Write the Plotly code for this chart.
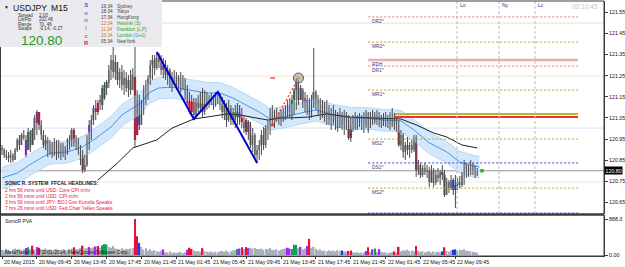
import plotly.graph_objects as go

# ---------------- data (USDJPY M15) ----------------
highs = [120.922,120.908,120.898,120.889,120.898,120.884,120.908,120.955,120.969,120.979,
 120.993,120.969,121.002,120.993,121.002,121.064,121.088,121.078,121.040,120.993,
 120.969,120.960,120.946,120.936,120.955,120.946,120.946,120.932,120.932,120.917,
 120.955,120.969,121.002,121.002,120.969,120.955,120.922,120.898,120.875,120.969,
 121.040,121.064,121.111,121.135,121.135,121.159,121.206,121.220,121.230,121.301,
 121.348,121.419,121.348,121.315,121.286,121.301,121.277,121.267,121.253,121.277,
 121.286,121.419,121.182,121.159,121.135,121.206,121.230,121.253,121.324,121.348,
 121.348,121.362,121.357,121.348,121.334,121.324,121.301,121.286,121.267,121.277,
 121.267,121.253,121.267,121.253,121.239,121.206,121.173,121.159,121.144,121.144,
 121.159,121.173,121.192,121.182,121.173,121.159,121.168,121.159,121.173,121.173,
 121.168,121.149,121.135,121.121,121.135,121.111,121.097,121.111,121.121,121.111,
 121.097,121.064,121.050,121.040,121.031,121.002,120.979,120.922,120.946,120.993,
 121.007,121.017,121.040,121.097,121.111,121.088,121.097,121.078,121.088,121.097,
 121.111,121.135,121.144,121.159,121.192,121.239,121.230,121.206,121.192,121.173,
 121.159,121.144,121.159,121.381,121.182,121.159,121.144,121.135,121.126,121.135,
 121.111,121.097,121.111,121.088,121.078,121.097,121.078,121.088,121.078,121.064,
 121.050,121.064,121.078,121.064,121.073,121.064,121.078,121.088,121.078,121.078,
 121.088,121.078,121.088,121.078,121.064,121.073,121.078,121.064,121.078,121.097,
 121.073,121.050,121.040,120.993,120.979,120.936,120.960,120.936,120.946,120.969,
 120.969,120.851,120.837,120.827,120.837,120.827,120.818,120.827,120.813,120.804,
 120.813,120.804,120.827,120.804,120.766,120.756,120.780,120.766,120.780,120.766,
 120.775,120.794,120.851,120.837,120.827,120.851,120.837,120.827,120.813]
lows = [120.875,120.861,120.851,120.841,120.837,120.841,120.851,120.889,120.898,120.922,
 120.946,120.865,120.898,120.889,120.922,120.946,120.969,120.993,120.946,120.908,
 120.898,120.865,120.875,120.861,120.870,120.851,120.861,120.851,120.865,120.851,
 120.875,120.898,120.913,120.913,120.898,120.875,120.827,120.789,120.794,120.818,
 120.898,120.946,121.017,121.040,121.064,121.088,121.088,121.135,121.159,121.192,
 121.230,121.239,121.230,121.206,121.192,121.182,121.159,121.173,121.149,121.159,
 121.182,120.913,120.969,120.993,121.017,121.064,121.111,121.135,121.206,121.230,
 121.253,121.277,121.286,121.253,121.239,121.230,121.206,121.192,121.173,121.206,
 121.182,121.192,121.173,121.182,121.135,121.111,121.069,121.064,121.045,121.054,
 121.078,121.088,121.054,121.064,121.088,121.097,121.111,121.088,121.102,121.116,
 121.088,121.050,121.040,121.007,121.031,121.017,121.017,121.002,121.017,121.017,
 121.002,120.979,120.969,120.946,120.908,120.889,120.861,120.837,120.851,120.875,
 120.898,120.908,120.946,120.969,121.017,121.002,121.031,121.017,121.012,121.031,
 121.040,121.050,121.050,121.040,121.064,121.088,121.111,121.135,121.097,121.078,
 121.064,121.040,121.050,121.097,121.088,121.064,121.040,121.050,121.031,121.017,
 121.017,120.993,121.017,120.993,120.984,121.002,120.993,120.969,120.993,120.946,
 120.936,120.984,120.993,120.993,121.007,120.993,120.979,121.002,120.979,121.002,
 121.017,121.021,121.017,121.007,121.002,121.012,121.007,121.002,120.993,121.007,
 120.993,120.984,120.913,120.898,120.861,120.851,120.875,120.861,120.884,120.889,
 120.771,120.780,120.766,120.771,120.780,120.766,120.723,120.742,120.723,120.733,
 120.747,120.733,120.756,120.676,120.685,120.695,120.709,120.685,120.624,120.709,
 120.718,120.723,120.733,120.766,120.771,120.780,120.780,120.766,120.775]
opens = [120.908,120.898,120.875,120.865,120.861,120.875,120.851,120.898,120.946,120.922,
 120.969,120.946,120.898,120.984,120.922,120.993,121.026,121.078,121.017,120.969,
 120.922,120.946,120.889,120.922,120.875,120.936,120.875,120.922,120.875,120.908,
 120.889,120.946,120.922,120.993,120.932,120.946,120.889,120.875,120.804,120.827,
 120.946,121.017,121.040,121.097,121.078,121.121,121.111,121.144,121.192,121.215,
 121.277,121.324,121.267,121.315,121.230,121.267,121.206,121.239,121.192,121.230,
 121.182,121.244,120.969,121.135,121.017,121.111,121.182,121.206,121.239,121.301,
 121.324,121.286,121.334,121.315,121.277,121.301,121.253,121.277,121.206,121.239,
 121.230,121.206,121.239,121.192,121.230,121.182,121.144,121.078,121.135,121.064,
 121.126,121.097,121.173,121.078,121.159,121.111,121.144,121.135,121.111,121.159,
 121.135,121.111,121.078,121.111,121.040,121.097,121.040,121.078,121.054,121.111,
 121.050,121.031,121.040,120.984,121.017,120.922,120.969,120.875,120.898,120.922,
 120.969,120.922,121.002,121.017,121.078,121.040,121.064,121.050,121.064,121.040,
 121.078,121.064,121.111,121.050,121.135,121.182,121.206,121.135,121.182,121.111,
 121.135,121.097,121.064,121.111,121.173,121.111,121.135,121.064,121.111,121.050,
 121.088,121.040,121.064,121.031,121.078,121.002,121.064,121.017,121.050,121.040,
 120.955,121.017,121.040,121.002,121.050,121.031,121.050,121.017,121.073,121.002,
 121.054,121.031,121.064,121.040,121.050,121.017,121.054,121.031,121.050,121.017,
 121.064,121.017,121.017,120.922,120.969,120.889,120.922,120.898,120.922,120.898,
 120.955,120.804,120.827,120.780,120.813,120.794,120.804,120.747,120.804,120.742,
 120.780,120.766,120.794,120.780,120.685,120.747,120.718,120.756,120.709,120.733,
 120.747,120.733,120.780,120.827,120.794,120.813,120.804,120.827,120.780]
closes = [120.898,120.875,120.865,120.861,120.875,120.851,120.898,120.946,120.922,120.969,
 120.955,120.875,120.984,120.908,120.993,121.050,121.078,121.017,120.969,120.922,
 120.946,120.889,120.922,120.875,120.936,120.875,120.922,120.875,120.908,120.889,
 120.946,120.922,120.993,120.932,120.946,120.889,120.851,120.804,120.827,120.946,
 121.017,121.040,121.097,121.078,121.121,121.135,121.192,121.206,121.220,121.277,
 121.324,121.267,121.315,121.230,121.267,121.206,121.239,121.192,121.230,121.182,
 121.253,120.946,121.135,121.017,121.111,121.182,121.206,121.239,121.301,121.324,
 121.286,121.334,121.315,121.277,121.301,121.253,121.277,121.206,121.239,121.230,
 121.206,121.239,121.192,121.230,121.159,121.121,121.078,121.135,121.064,121.126,
 121.097,121.159,121.078,121.159,121.111,121.144,121.135,121.111,121.159,121.135,
 121.111,121.078,121.111,121.040,121.097,121.040,121.078,121.040,121.111,121.050,
 121.031,121.002,120.984,121.031,120.922,120.969,120.875,120.898,120.922,120.969,
 120.922,121.002,121.017,121.078,121.040,121.064,121.050,121.064,121.040,121.078,
 121.064,121.111,121.078,121.135,121.182,121.220,121.135,121.192,121.111,121.144,
 121.088,121.064,121.111,121.173,121.111,121.135,121.064,121.111,121.050,121.088,
 121.040,121.064,121.031,121.078,121.002,121.064,121.017,121.050,121.031,120.955,
 121.017,121.040,121.002,121.050,121.031,121.050,121.017,121.073,120.993,121.054,
 121.040,121.064,121.040,121.059,121.017,121.054,121.031,121.050,121.017,121.064,
 121.017,121.031,120.922,120.969,120.889,120.922,120.898,120.922,120.898,120.955,
 120.804,120.827,120.780,120.813,120.794,120.804,120.747,120.804,120.742,120.780,
 120.766,120.794,120.780,120.685,120.747,120.718,120.756,120.709,120.733,120.747,
 120.733,120.780,120.827,120.794,120.813,120.804,120.827,120.780,120.800]
volumes = [130,110,150,120,100,140,160,130,150,120,140,
 170,190,150,230,140,200,180,
 150,130,160,120,140,110,130,150,120,100,140,130,110,150,160,
 190,150,140,170,230,160,180,200,170,190,210,220,180,240,270,260,
 200,180,220,160,150,140,170,130,150,140,160,180,
 888.3,460,300,
 200,130,170,110,150,100,120,90,80,110,140,70,60,90,50,70,40,60,80,50,70,
 130,180,150,110,90,100,80,170,100,80,70,90,60,80,70,90,100,80,110,70,90,110,120,
 150,160,190,150,200,170,180,160,170,150,140,160,130,150,140,170,130,120,140,110,130,150,160,
 180,160,150,250,250,170,200,140,160,220,400,180,200,150,120,140,100,110,90,120,100,110,90,120,100,
 110,90,80,100,110,70,60,70,50,60,70,100,190,70,140,160,80,150,90,60,70,50,60,70,90,60,
 200,90,120,110,130,100,110,90,220,100,80,90,70,80,100,60,90,70,80,60,90,190,100,80,120,130,140,110,130,120,140,110,100,90,80,70,60]
# Sonic R PVA flags per bar index: P purple, G green, R red, B blue
pva_marks = {11:'P',12:'G',14:'R',16:'P',17:'R',33:'R',37:'R',40:'P',43:'P',44:'R',46:'G',47:'G',48:'G',
 61:'R',62:'R',63:'B',74:'P',85:'P',86:'R',87:'R',92:'R',108:'G',109:'P',110:'R',112:'R',113:'P',
 131:'P',132:'P',133:'G',134:'G',135:'G',137:'P',140:'P',141:'R',156:'B',159:'R',160:'R',
 167:'P',168:'R',170:'P',171:'G',173:'P',180:'R',182:'R',190:'R',202:'B',203:'R',207:'B',208:'B'}

x_label_bars = [0,16,32,48,64,80,96,112,128,144,160,176,192,208]
x_labels = ["20 May 2015","20 May 09:45","20 May 13:45","20 May 17:45","20 May 21:45","21 May 01:45",
            "21 May 05:45","21 May 09:45","21 May 13:45","21 May 17:45","21 May 21:45","22 May 01:45",
            "22 May 05:45","22 May 09:45"]

band_idx = [0,7,14,22,30,37,42,50,55,60,63,68,72,78,86,94,100,106,112,118,123,129,137,144,152,160,167,175,183,189,196,204,210,216,219]
band_mid = [120.766,120.789,120.837,120.884,120.889,120.913,120.946,121.007,121.064,121.097,121.116,121.173,121.192,121.196,121.182,121.168,121.168,121.144,121.111,121.078,121.045,121.054,121.073,121.088,121.064,121.050,121.050,121.040,121.036,120.993,120.932,120.889,120.841,120.823,120.818]
band_hi = [120.816,120.839,120.887,120.934,120.939,120.963,120.996,121.057,121.114,121.147,121.166,121.223,121.242,121.246,121.232,121.218,121.218,121.194,121.161,121.128,121.095,121.104,121.123,121.138,121.114,121.100,121.100,121.090,121.086,121.043,120.982,120.939,120.891,120.873,120.868]
band_lo = [120.714,120.737,120.785,120.832,120.837,120.861,120.894,120.955,121.012,121.045,121.064,121.121,121.140,121.144,121.130,121.116,121.116,121.092,121.059,121.026,120.993,121.002,121.021,121.036,121.012,120.998,120.998,120.988,120.984,120.941,120.880,120.837,120.789,120.771,120.766]
slow_idx = [44,53,60,68,71,78,88,97,103,109,115,122,128,132,140,149,160,169,175,183,190,198,204,211,218]
slow_val = [120.756,120.837,120.908,120.936,120.946,121.002,121.045,121.059,121.069,121.064,121.054,121.040,121.050,121.050,121.054,121.069,121.054,121.050,121.050,121.045,121.017,120.979,120.960,120.922,120.908]
zz_idx = [71,88,99,117]
zz_val = [121.362,121.045,121.173,120.837]
proj_idx = [124,136]
proj_val = [121.017,121.239]

level_names = ["DR2^","MR2^","RDH","DR1^","MR1^","MS1^","DS1^","MS2^",""]
level_prices = [121.528,121.409,121.324,121.296,121.182,120.950,120.837,120.718,120.600]
level_kind = ["D","M","H","D","M","M","S","M","S"]
full_lines = [121.499,121.248,121.002,120.747]
full_line_colors = ["#cdeecd","#efe6d6","#dcdcf6","#e2eed2"]
pivot_prices = [121.069,121.054]
bid = 120.80
session_idx = [208.7,228.0,244.5]
session_names = ["Lo","Ny","Lc"]
right_ticks = [121.55,121.45,121.35,121.25,121.15,121.05,120.95,120.85,120.75,120.65]
headlines = ["2 hrs 56 mins until USD: Core CPI m/m","2 hrs 56 mins until USD: CPI m/m",
             "3 hrs 56 mins until JPY: BOJ Gov Kuroda Speaks","7 hrs 26 mins until USD: Fed Chair Yellen Speaks"]
info_rows = [("Spread","2.00"),("LotPip","202.46"),("Range","70, 46"),("Swaps","-0.14, -0.27")]
clock_rows = [("19:34","Sydney"),("18:34","Tokyo"),("17:34","HongKong"),("12:34","Helsinki (S)"),
              ("11:34","Frankfurt (L,P)"),("10:34","London (G+1)"),("05:34","NewYork")]
brand_letters = ["S","o","n","i","c","R"]

# ---------------- layout helpers ----------------
W, H = 625, 267
ML, MR, MT, MB = 0, 21, 1, 11
PW, PH = W - ML - MR, H - MT - MB
def pxx(x): return (x - ML) / PW
def pxy(y): return (H - MB - y) / PH
FONT = "Liberation Sans"
PVA_COL = {"P": "#a428f0", "G": "#10a058", "R": "#e8103c", "B": "#1c3ce0"}
n = len(closes)
idx = list(range(n))

fig = go.Figure()

# Dragon band
fig.add_trace(go.Scatter(x=band_idx, y=band_lo, mode="lines", line=dict(color="#b6d9f5", width=1), hoverinfo="skip"))
fig.add_trace(go.Scatter(x=band_idx, y=band_hi, mode="lines", line=dict(color="#b6d9f5", width=1),
                         fill="tonexty", fillcolor="rgba(204,228,250,0.85)", hoverinfo="skip"))
fig.add_trace(go.Scatter(x=band_idx, y=band_mid, mode="lines", line=dict(color="#4a94e6", width=1), hoverinfo="skip"))
fig.add_trace(go.Scatter(x=slow_idx, y=slow_val, mode="lines", line=dict(color="#202020", width=1), hoverinfo="skip"))

# wicks
wx, wy = [], []
for i in idx:
    wx += [i, i, None]
    wy += [lows[i], highs[i], None]
fig.add_trace(go.Scatter(x=wx, y=wy, mode="lines", line=dict(color="#4a4a4a", width=1), hoverinfo="skip"))
# bodies
bcol, bw, bbase, bh = [], [], [], []
for i in idx:
    m = pva_marks.get(i)
    bcol.append(PVA_COL[m] if m else "#a4a4a4")
    bw.append(1.05 if m else 0.75)
    bbase.append(min(opens[i], closes[i]))
    bh.append(max(abs(opens[i] - closes[i]), 0.003))
fig.add_trace(go.Bar(x=idx, y=bh, base=bbase, width=bw, marker=dict(color=bcol, line=dict(width=0)), hoverinfo="skip"))

# zigzag and projection
fig.add_trace(go.Scatter(x=zz_idx, y=zz_val, mode="lines", line=dict(color="#0000c8", width=2), hoverinfo="skip"))
fig.add_trace(go.Scatter(x=proj_idx, y=proj_val, mode="lines", line=dict(color="#ff2a2a", width=1.3, dash="2px,2px"), hoverinfo="skip"))
fig.add_trace(go.Scatter(x=[proj_idx[0]], y=[proj_val[0]], mode="markers", marker=dict(color="#ff2020", size=3), hoverinfo="skip"))
fig.add_trace(go.Scatter(x=[proj_idx[1]], y=[proj_val[1]], mode="markers",
                         marker=dict(symbol="circle", size=10, color="rgba(150,150,150,0.55)", line=dict(color="#5a5a5a", width=1)), hoverinfo="skip"))
fig.add_trace(go.Scatter(x=[proj_idx[1]], y=[proj_val[1]], mode="markers", marker=dict(color="#f0a020", size=3), hoverinfo="skip"))
fig.add_trace(go.Scatter(x=[proj_idx[0] - 1, proj_idx[0] + 1.3], y=[proj_val[1], proj_val[1]], mode="lines",
                         line=dict(color="#ff2020", width=1.2), hoverinfo="skip"))
fig.add_trace(go.Scatter(x=[n + 1.2], y=[bid], mode="markers", marker=dict(symbol="square", color="#20c020", size=3.5), hoverinfo="skip"))

# volumes
vcol = [PVA_COL[pva_marks[i]] if i in pva_marks else "#aab0ba" for i in idx]
fig.add_trace(go.Bar(x=idx, y=volumes, width=0.7, marker=dict(color=vcol, line=dict(width=0)), yaxis="y2", hoverinfo="skip"))

shapes = []
for p, c in zip(full_lines, full_line_colors):
    shapes.append(dict(type="line", xref="paper", x0=0, x1=1, yref="y", y0=p, y1=p, line=dict(color=c, width=1), layer="below"))
shapes.append(dict(type="line", xref="paper", x0=0, x1=1, yref="y", y0=bid, y1=bid, line=dict(color="#959595", width=1), layer="below"))
lvl_start, lvl_end = 168, 264.2
kind_style = {"D": ("#f07070", 1, "2px,2px"), "M": ("#a6a624", 1, "2px,2px"), "S": ("#3434e0", 1, "2px,2px"), "H": ("#f4a8a8", 2.5, "solid")}
for name, p, k in zip(level_names, level_prices, level_kind):
    c, w, d = kind_style[k]
    shapes.append(dict(type="line", xref="x", x0=lvl_start, x1=lvl_end, yref="y", y0=p, y1=p, line=dict(color=c, width=w, dash=d)))
for p, c in zip(pivot_prices, ["#b4b43c", "#f03030"]):
    shapes.append(dict(type="line", xref="x", x0=180.3, x1=lvl_end, yref="y", y0=p, y1=p, line=dict(color=c, width=2)))
for s in session_idx:
    shapes.append(dict(type="line", xref="x", x0=s, x1=s, yref="paper", y0=pxy(214), y1=pxy(1), line=dict(color="#bdbdbd", width=1, dash="3px,2px")))
shapes.append(dict(type="rect", xref="paper", yref="paper", x0=pxx(0.5), x1=1, y0=pxy(214), y1=pxy(1), line=dict(color="#3c3c3c", width=1)))
shapes.append(dict(type="line", xref="paper", yref="paper", x0=0, x1=1, y0=pxy(214.5), y1=pxy(214.5), line=dict(color="#3c3c3c", width=2)))
shapes.append(dict(type="rect", xref="paper", yref="paper", x0=pxx(0.5), x1=1, y0=0, y1=pxy(215), line=dict(color="#3c3c3c", width=1)))
shapes.append(dict(type="rect", xref="paper", yref="paper", x0=0, x1=pxx(162), y0=pxy(47), y1=pxy(0), fillcolor="#ebebef", line=dict(width=0), layer="above"))

ann = []
def txt(x, y, s, size=5, color="#202020", anchor="left", bold=False, **kw):
    ann.append(dict(xref="paper", yref="paper", x=pxx(x), y=pxy(y), text=("<b>%s</b>" % s) if bold else s, showarrow=False,
                    xanchor=anchor, yanchor="middle", font=dict(family=FONT, size=size, color=color), **kw))

for b, lab in zip(x_label_bars, x_labels):
    ann.append(dict(xref="x", yref="paper", x=b, y=pxy(261.5), text=lab, showarrow=False, xanchor="left", yanchor="middle",
                    font=dict(family=FONT, size=5.3, color="#111111")))
for name, p in zip(level_names, level_prices):
    if name:
        ann.append(dict(xref="x", yref="y", x=lvl_start + 0.8, y=p, text=name, showarrow=False, xanchor="left", yanchor="top",
                        font=dict(family=FONT, size=4.8, color="#3a3a80")))
for s, nm in zip(session_idx, session_names):
    ann.append(dict(xref="x", yref="paper", x=s, y=pxy(5), text=nm, showarrow=False, xanchor="left", yanchor="middle",
                    xshift=1, font=dict(family=FONT, size=5, color="#2a2a9a")))
ann.append(dict(xref="paper", yref="y", x=1, y=bid, text="120.80", showarrow=False, xanchor="left", yanchor="middle",
                bgcolor="#000000", borderpad=0.5, font=dict(family=FONT, size=5.3, color="#ffffff")))
txt(600, 6.5, "00:10:45", size=6.5, color="#c4c4c4", anchor="right")

# info panel text
txt(2, 7, "▼", size=5, color="#202020")
txt(11, 7.5, "USDJPY", size=8.6, color="#101010")
txt(49, 7.5, "M15", size=8.6, color="#101010")
for k, (a, b) in enumerate(info_rows):
    txt(16, 15 + 4.5 * k, a, size=4.6, color="#303030")
    txt(37, 15 + 4.5 * k, b, size=4.6, color="#303030")
txt(19, 40, "120.80", size=13.5, color="#1e9a28")
brand_cols = ["#5050dc", "#8868d8", "#a860c8", "#d060a0", "#e04878", "#e0203c"]
brand_txt = "<br>".join('<span style="color:%s"><b>%s</b></span>' % (c, ch) for ch, c in zip(brand_letters, brand_cols))
ann.append(dict(xref="paper", yref="paper", x=pxx(86), y=pxy(23.5), text=brand_txt, showarrow=False, xanchor="center",
                yanchor="middle", align="center", borderpad=0, font=dict(family=FONT, size=5.9, color="#5050dc")))
for k, (t, nm) in enumerate(clock_rows):
    yy = 6 + 5.95 * k
    hl = 3 <= k <= 5
    txt(99, yy, t, size=4.6, color="#c87814" if hl else "#3c3c3c")
    txt(115, yy, nm, size=4.6, color="#1ea01e" if hl else "#3c3c3c")

# headlines
txt(3, 183, "SONIC R. SYSTEM  FFCAL HEADLINES:", size=4.9, color="#14143c", bold=True)
for k, h in enumerate(headlines):
    txt(3, 190 + 6 * k, h, size=4.9, color="#e8103c")

# indicator texts
txt(3, 220.5, "SonicR PVA", size=5, color="#202020")
txt(3, 251.5, "MetaTrader 4, © 2001-2014, MetaQuotes Software Corp.", size=4.9, color="#1a1a1a")

fig.update_layout(
    width=W, height=H, margin=dict(l=ML, r=MR, t=MT, b=MB),
    paper_bgcolor="#ffffff", plot_bgcolor="#ffffff", showlegend=False, barmode="overlay",
    shapes=shapes, annotations=ann,
    xaxis=dict(range=[-0.917, 276.15], anchor="y2", showgrid=False, zeroline=False, showline=True, linecolor="#3c3c3c",
               tickvals=x_label_bars, ticks="outside", ticklen=2, tickcolor="#3c3c3c", showticklabels=False, fixedrange=True),
    yaxis=dict(domain=[pxy(214), 1], range=[120.5954, 121.6035], side="right", anchor="x", showgrid=False, zeroline=False,
               showline=True, linecolor="#3c3c3c", tickvals=right_ticks, ticktext=["%.2f" % v for v in right_ticks],
               ticks="outside", ticklen=3, tickcolor="#3c3c3c", tickfont=dict(family=FONT, size=5.3, color="#111111"),
               automargin=False),
    yaxis2=dict(domain=[0, pxy(215)], range=[-24.7, 987], side="right", anchor="x", showgrid=False, zeroline=False,
                showline=True, linecolor="#3c3c3c", tickvals=[888.3, 0], ticktext=["888.3", "0.00"], ticks="outside",
                ticklen=3, tickcolor="#3c3c3c", tickfont=dict(family=FONT, size=5.3, color="#111111"), automargin=False),
)
fig.write_html("out.html")
